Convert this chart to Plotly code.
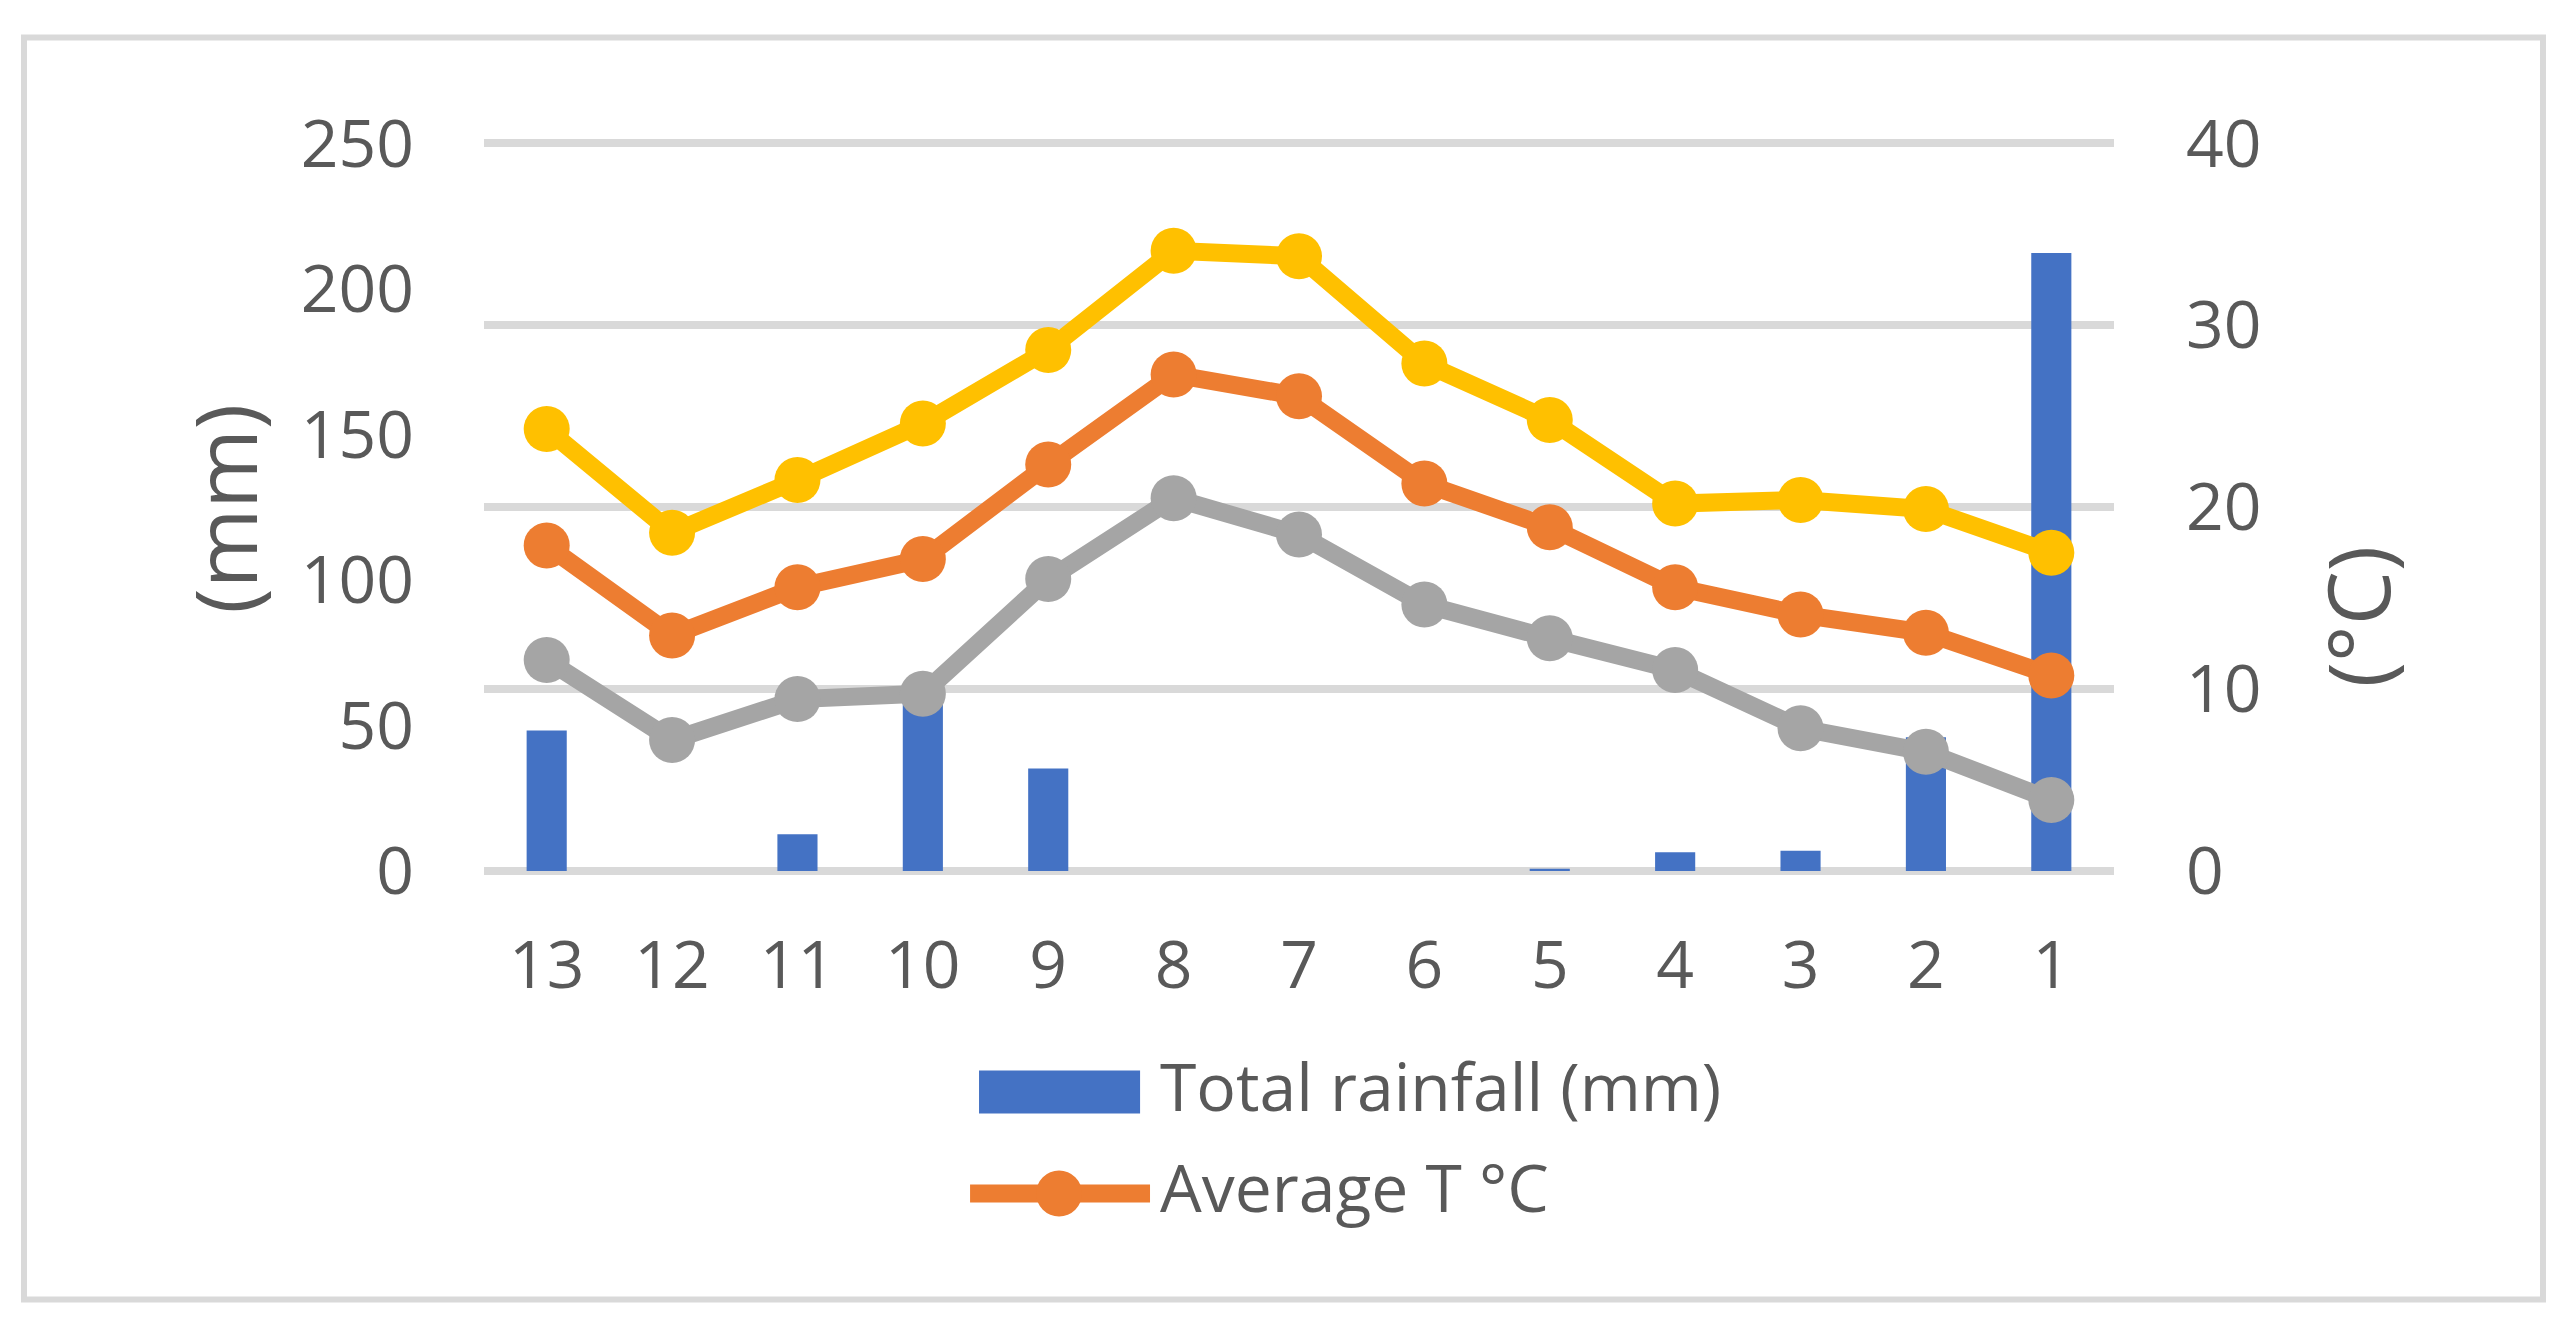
import plotly.graph_objects as go

# station / period labels, read right-to-left as in the original sheet
periods = ["13", "12", "11", "10", "9", "8", "7", "6", "5", "4", "3", "2", "1"]

rainfall_mm = [48.3, 0, 12.6, 60, 35.2, 0, 0, 0, 0.8, 6.4, 7.0, 46, 212.4]
t_max = [24.3, 18.6, 21.5, 24.6, 28.65, 34.1, 33.8, 27.9, 24.8, 20.2, 20.4, 19.9, 17.5]
t_avg = [17.9, 12.95, 15.6, 17.15, 22.35, 27.3, 26.1, 21.3, 18.9, 15.6, 14.1, 13.1, 10.75]
t_min = [11.6, 7.2, 9.45, 9.75, 16.05, 20.5, 18.5, 14.65, 12.8, 11.05, 7.85, 6.55, 3.9]

rain_ticks = [0, 50, 100, 150, 200, 250]
temp_ticks = [0, 10, 20, 30, 40]

BLUE = "#4472C4"
ORANGE = "#ED7D31"
GRAY = "#A5A5A5"
YELLOW = "#FFC000"
TEXT = "#595959"
GRID = "#D9D9D9"
FONT = "Open Sans"

# a hair above 40 so the top gridline is not dropped at the plot edge
TEMP_TOP = 40.3
RAIN_TOP = 250 * TEMP_TOP / 40

fig = go.Figure()

fig.add_trace(go.Bar(
    x=periods, y=rainfall_mm, name="Total rainfall (mm)",
    marker=dict(color=BLUE, line_width=0), yaxis="y", showlegend=False,
))

for vals, colour, name in [
    (t_max, YELLOW, "Maximum T °C"),
    (t_avg, ORANGE, "Average T °C"),
    (t_min, GRAY, "Minimum T °C"),
]:
    fig.add_trace(go.Scatter(
        x=periods, y=vals, name=name, mode="lines+markers", yaxis="y2",
        line=dict(color=colour, width=18),
        marker=dict(color=colour, size=46),
        showlegend=False,
    ))

# page body keeps its 8px margin, so the figure is 16px smaller than the window
fig.update_layout(
    width=2546,
    height=1312,
    margin=dict(l=476, r=440, t=130, b=449),
    paper_bgcolor="white",
    plot_bgcolor="white",
    font=dict(family=FONT, color=TEXT, size=66),
    bargap=0.68,
    showlegend=False,
    xaxis=dict(
        type="category", range=[-0.5, 12.5], showgrid=False, zeroline=False,
        showline=False, ticks="", ticklabelstandoff=50,
        tickfont=dict(size=66, color=TEXT),
    ),
    yaxis=dict(
        range=[0, RAIN_TOP], tickvals=rain_ticks, showgrid=False, zeroline=False,
        ticks="", ticklabelstandoff=69, tickfont=dict(size=66, color=TEXT),
    ),
    yaxis2=dict(
        range=[0, TEMP_TOP], tickvals=temp_ticks, overlaying="y", side="right",
        showgrid=True, gridcolor=GRID, gridwidth=8,
        zeroline=True, zerolinecolor=GRID, zerolinewidth=8,
        ticks="", ticklabelstandoff=71, tickfont=dict(size=66, color=TEXT),
    ),
)

# axis titles (Excel places the right one a bit lower than centre)
fig.add_annotation(text="(mm)", xref="paper", yref="paper", x=-0.160, y=0.4945,
                   textangle=-90, showarrow=False, font=dict(size=86, color=TEXT),
                   xanchor="center", yanchor="middle")
fig.add_annotation(text="(°C)", xref="paper", yref="paper", x=1.1485, y=0.3472,
                   textangle=-90, showarrow=False, font=dict(size=86, color=TEXT),
                   xanchor="center", yanchor="middle")

# legend drawn by hand: Excel symbols are far bigger than plotly's capped ones
fig.add_shape(type="rect", xref="paper", yref="paper",
              x0=0.3037, x1=0.4025, y0=-0.3308, y1=-0.2722,
              fillcolor=BLUE, line_width=0)
fig.add_annotation(text="Total rainfall (mm)", xref="paper", yref="paper",
                   x=0.4135, y=-0.2913, xanchor="left", yanchor="middle",
                   showarrow=False, font=dict(size=66, color=TEXT))
fig.add_shape(type="line", xref="paper", yref="paper",
              x0=0.2982, x1=0.4086, y0=-0.44, y1=-0.44,
              line=dict(color=ORANGE, width=18))
fig.add_shape(type="circle", xref="paper", yref="paper",
              x0=0.3528 - 0.0141, x1=0.3528 + 0.0141,
              y0=-0.44 - 0.0314, y1=-0.44 + 0.0314,
              fillcolor=ORANGE, line_width=0)
fig.add_annotation(text="Average T °C", xref="paper", yref="paper",
                   x=0.4135, y=-0.4304, xanchor="left", yanchor="middle",
                   showarrow=False, font=dict(size=66, color=TEXT))

# chart-area border
fig.add_shape(type="rect", xref="paper", yref="paper",
              x0=-0.2822, x1=1.2632, y0=-0.5846, y1=1.1371,
              line=dict(color=GRID, width=6), fillcolor="rgba(0,0,0,0)", layer="below")

fig.write_html("out.html")
